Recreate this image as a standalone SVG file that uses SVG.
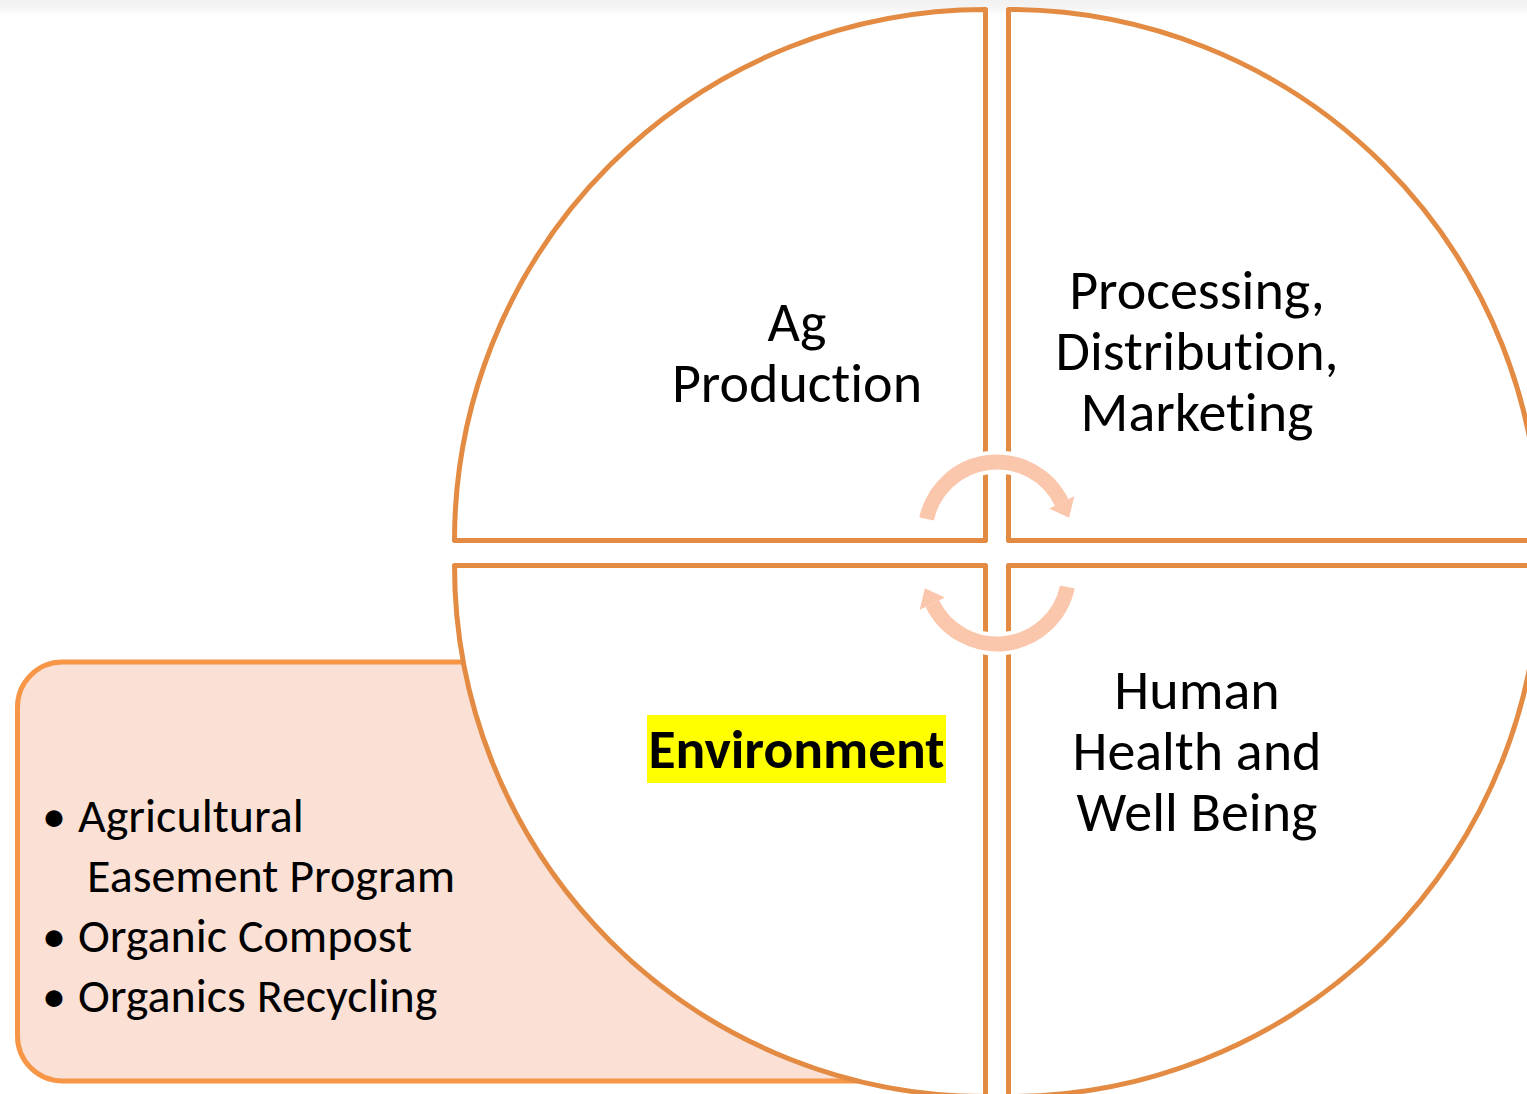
<svg xmlns="http://www.w3.org/2000/svg" width="1527" height="1094" viewBox="0 0 1527 1094">
  <defs>
    <linearGradient id="topband" x1="0" y1="0" x2="0" y2="1">
      <stop offset="0" stop-color="#f1f1f1"/>
      <stop offset="0.45" stop-color="#f4f4f4"/>
      <stop offset="1" stop-color="#ffffff"/>
    </linearGradient>
    <style>
      .quad { fill: #ffffff; stroke: #E38B43; stroke-width: 5; stroke-linejoin: round; }
      .box { fill: #FBE0D5; stroke: #F79646; stroke-width: 5; }
      .lbl { font-family: Carlito, Lato, "Open Sans", sans-serif; font-size: 56px; fill: #000000; text-anchor: middle; font-variant-ligatures: none; }
      .bul { font-family: Carlito, Lato, "Open Sans", sans-serif; font-size: 48px; fill: #000000; font-variant-ligatures: none; }
      .arcw { fill: none; stroke: #ffffff; stroke-width: 23; }
      .arc { fill: none; stroke: #FAC6AC; stroke-width: 15; }
      .headw { fill: #ffffff; stroke: #ffffff; stroke-width: 6; stroke-linejoin: miter; }
      .head { fill: #FAC6AC; }
    </style>
  </defs>
  <rect x="0" y="0" width="1527" height="1094" fill="#ffffff"/>
  <rect x="0" y="0" width="1527" height="16" fill="url(#topband)"/>

  <g id="side-box">
    <rect class="box" x="17.5" y="662" width="900" height="419" rx="45" ry="45"/>
    <text class="bul"><tspan x="42" y="832">•</tspan><tspan x="78" y="832">Agricultural</tspan><tspan x="87" y="892">Easement Program</tspan><tspan x="42" y="952">•</tspan><tspan x="78" y="952">Organic Compost</tspan><tspan x="42" y="1012">•</tspan><tspan x="78" y="1012">Organics Recycling</tspan></text>
  </g>

  <g id="q-ag-production">
    <path class="quad" d="M 985.5 540.5 H 454.5 A 531 531 0 0 1 985.5 9.5 Z"/>
    <text class="lbl"><tspan x="797" y="341">Ag</tspan><tspan x="797" y="402">Production</tspan></text>
  </g>

  <g id="q-processing">
    <path class="quad" d="M 1008.5 540.5 V 9.5 A 531 531 0 0 1 1539.5 540.5 Z"/>
    <text class="lbl"><tspan x="1197" y="309">Processing,</tspan><tspan x="1197" y="370">Distribution,</tspan><tspan x="1197" y="431">Marketing</tspan></text>
  </g>

  <g id="q-environment">
    <path class="quad" d="M 985.5 565.5 V 1096.5 A 531 531 0 0 1 454.5 565.5 Z"/>
    <rect x="647" y="715" width="299" height="68" fill="#FFFF00"/>
    <text class="lbl" x="796.5" y="768" font-weight="bold" style="font-size:55.5px">Environment</text>
  </g>

  <g id="q-human-health">
    <path class="quad" d="M 1008.5 565.5 H 1539.5 A 531 531 0 0 1 1008.5 1096.5 Z"/>
    <text class="lbl"><tspan x="1197" y="709">Human</tspan><tspan x="1197" y="770">Health and</tspan><tspan x="1197" y="831">Well Being</tspan></text>
  </g>

  <g id="connectors">
    <g id="arrow-top">
      <path class="arcw" d="M 926.6 519 A 72 72 0 0 1 1061.7 502.4"/>
      <polygon class="headw" points="1074.3,496.3 1069.1,517.7 1049.1,508.5"/>
      <path class="arc" d="M 926.6 519 A 72 72 0 0 1 1061.7 502.4"/>
      <polygon class="head" points="1074.3,496.3 1069.1,517.7 1049.1,508.5"/>
    </g>
    <g id="arrow-bottom" transform="rotate(180 997 553)">
      <path class="arcw" d="M 926.6 519 A 72 72 0 0 1 1061.7 502.4"/>
      <polygon class="headw" points="1074.3,496.3 1069.1,517.7 1049.1,508.5"/>
      <path class="arc" d="M 926.6 519 A 72 72 0 0 1 1061.7 502.4"/>
      <polygon class="head" points="1074.3,496.3 1069.1,517.7 1049.1,508.5"/>
    </g>
  </g>
</svg>
